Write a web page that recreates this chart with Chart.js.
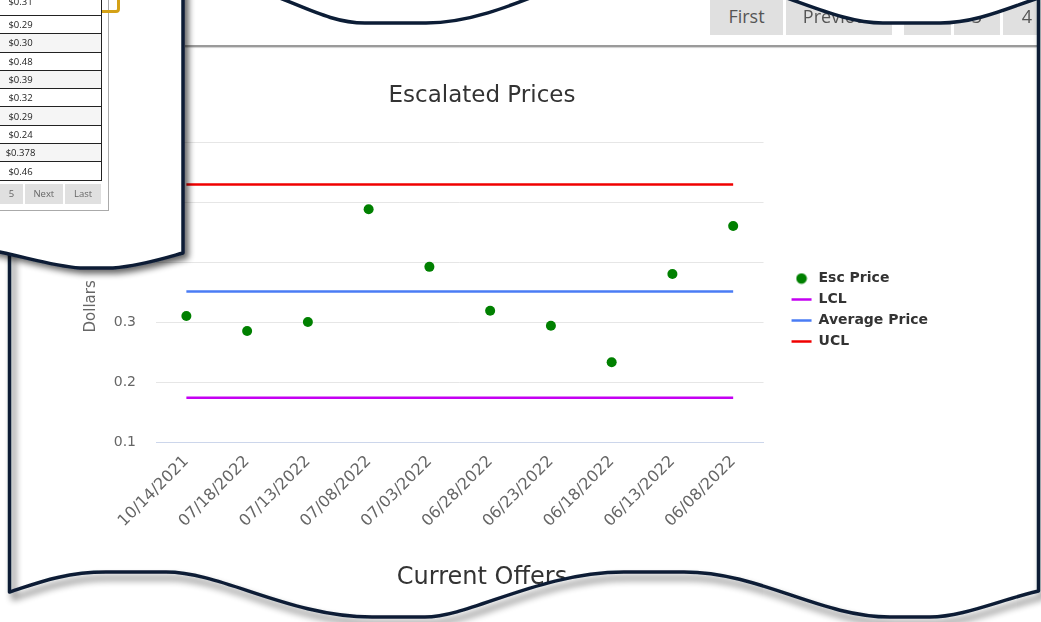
<!DOCTYPE html>
<html>
<head>
<meta charset="utf-8">
<script src="https://cdn.jsdelivr.net/npm/chart.js@4/dist/chart.umd.min.js"></script>
<style>
  html, body { margin: 0; padding: 0; background: #fff; width: 1041px; height: 622px; overflow: hidden; }
  #page { position: relative; width: 1041px; height: 622px; overflow: hidden; }
  #chartBox { position: absolute; left: 0; top: 0; width: 964px; height: 622px; z-index: 1; }
  .pbtn { position: absolute; top: -12px; height: 47px; background: #e0e0e0; color: #555;
          font: 18px "Open Sans", sans-serif; line-height: 56px; text-align: center; z-index: 1; }
  #rule { position: absolute; left: 185px; top: 45px; width: 852px; height: 2px; background: #9a9a9a;
          box-shadow: 0 1px 1px #d0d0d0; z-index: 1; }
  svg.layer { position: absolute; left: 0; top: 0; overflow: visible; }
  #frame { z-index: 2; }
  #insetShape { z-index: 3; }
  #inset { position: absolute; left: 0; top: 0; width: 183px; height: 250px; z-index: 4; overflow: hidden;
           font-family: "Open Sans", sans-serif; }
  #inset .outer { position: absolute; left: -20px; top: -20px; width: 127px; height: 229px; border: 1px solid #aaa; }
  #inset .gold { position: absolute; left: -20px; top: -20px; width: 134px; height: 27px;
                 border: 3.5px solid #d4a116; border-radius: 4px; }
  #inset table { position: absolute; left: -60px; top: -2.3px; border-collapse: collapse; width: 162px; }
  #inset td { height: 17.3px; padding: 0; border-bottom: 1px solid #222; border-right: 1px solid #222;
              font-size: 9.5px; color: #222; text-align: center; line-height: 17px; background: #fff; }
  #inset tr.alt td { background: #f5f5f5; }
  #inset tr.first td span { position: relative; top: -5px; }
  #inset .ib { position: absolute; top: 183.5px; height: 20.5px; background: #e0e0e0; color: #666;
               font-size: 9.5px; line-height: 20.5px; text-align: center; }
</style>
</head>
<body>
<div id="page">
  <div id="chartBox"><canvas id="chart"></canvas></div>

  <div id="pager"></div>
  <div id="rule"></div>

  <svg id="frame" class="layer" width="1041" height="622">
    <defs>
      <filter id="edgeShadow" filterUnits="userSpaceOnUse" x="-50" y="-50" width="1150" height="720">
        <feGaussianBlur in="SourceAlpha" stdDeviation="3.5"/>
        <feOffset dx="4" dy="6" result="off"/>
        <feComponentTransfer><feFuncA type="linear" slope="0.6"/></feComponentTransfer>
        <feMerge><feMergeNode/><feMergeNode in="SourceGraphic"/></feMerge>
      </filter>
    </defs>
    <!-- white surround outside the torn sheet -->
    <path fill="#fff" fill-rule="evenodd" d="
      M-20,-20 H1070 V650 H-20 Z
      M9.5,-20 L225,-20 C290,-4 322,23 365,23 L426,23 C472,23 515,4 560,-14 L750,-14 C800,0 842,23 883,23 L940,23 C976,23 1008,8 1038.5,-2
      L1038.5,591 C1000,600 962,617 930,617 L890,617 C820,617 760,572 684,572 L624,572 C540,572 470,617 425,617 L372,617
      C290,617 222,572 166,572 L106,572 C62,572 32,585 9.5,592 Z"/>
    <!-- bottom and right edges, with shadow -->
    <path fill="none" stroke="#0c1d36" stroke-width="3.5" stroke-linejoin="round" filter="url(#edgeShadow)" d="
      M1038.5,-10 L1038.5,591 C1000,600 962,617 930,617 L890,617 C820,617 760,572 684,572 L624,572 C540,572 470,617 425,617 L372,617
      C290,617 222,572 166,572 L106,572 C62,572 32,585 9.5,592 L9.5,200"/>
    <!-- top torn edge -->
    <path fill="none" stroke="#0c1d36" stroke-width="3.5" stroke-linejoin="round" d="
      M225,-20 C290,-4 322,23 365,23 L426,23 C472,23 515,4 560,-14
      M750,-14 C800,0 842,23 883,23 L940,23 C976,23 1008,8 1038.5,-2"/>
  </svg>

  <svg id="insetShape" class="layer" width="1041" height="622">
    <defs>
      <filter id="insetShadow" filterUnits="userSpaceOnUse" x="-50" y="-50" width="400" height="400">
        <feGaussianBlur in="SourceAlpha" stdDeviation="3"/>
        <feOffset dx="4" dy="4" result="off"/>
        <feComponentTransfer><feFuncA type="linear" slope="0.6"/></feComponentTransfer>
        <feMerge><feMergeNode/><feMergeNode in="SourceGraphic"/></feMerge>
      </filter>
    </defs>
    <path fill="#fff" stroke="#0c1d36" stroke-width="3.5" stroke-linejoin="round" filter="url(#insetShadow)"
      d="M-10,-10 L183,-10 L183,253 C165,258 140,266 113,268 L80,268 C52,266 26,257 -10,250 Z"/>
  </svg>

  <div id="inset">
    <div class="outer"></div>
    <div class="gold"></div>
    <table id="priceTable"></table>
    <div id="insetPager"></div>
  </div>
</div>

<script>
// Offer dates along the x axis and the escalated price for each offer
const offerDates = ['10/14/2021', '07/18/2022', '07/13/2022', '07/08/2022', '07/03/2022',
                    '06/28/2022', '06/23/2022', '06/18/2022', '06/13/2022', '06/08/2022'];
const escPrice   = [0.31, 0.285, 0.30, 0.488, 0.392, 0.319, 0.294, 0.233, 0.38, 0.46];

// Control limits and the average, one value per offer
const lclLine     = [0.174, 0.174, 0.174, 0.174, 0.174, 0.174, 0.174, 0.174, 0.174, 0.174];
const averageLine = [0.351, 0.351, 0.351, 0.351, 0.351, 0.351, 0.351, 0.351, 0.351, 0.351];
const uclLine     = [0.529, 0.529, 0.529, 0.529, 0.529, 0.529, 0.529, 0.529, 0.529, 0.529];

// Y axis tick values (dollars)
const yTicks = [0.1, 0.2, 0.3, 0.4, 0.5, 0.6];

// Price list shown in the side panel, and the pager captions
const tablePrices  = ['$0.31', '$0.29', '$0.30', '$0.48', '$0.39', '$0.32', '$0.29', '$0.24', '$0.378', '$0.46'];
const panelPager   = ['5', 'Next', 'Last'];
const headerPager  = ['First', 'Previous', '2', '3', '4'];

// ---- page header pager ----
const headerSlots = [[710, 73], [786, 106], [904, 47], [954, 46], [1003, 48]];
const pagerEl = document.getElementById('pager');
headerPager.forEach((t, i) => {
  const b = document.createElement('div');
  b.className = 'pbtn';
  b.style.left = headerSlots[i][0] + 'px';
  b.style.width = headerSlots[i][1] + 'px';
  b.textContent = t;
  pagerEl.appendChild(b);
});

// ---- side panel table ----
const tbl = document.getElementById('priceTable');
tablePrices.forEach((p, i) => {
  const tr = document.createElement('tr');
  if (i === 0) tr.className = 'first';
  else if (i % 2 === 0) tr.className = 'alt';
  const td = document.createElement('td');
  const sp = document.createElement('span');
  sp.textContent = p;
  td.appendChild(sp);
  tr.appendChild(td);
  tbl.appendChild(tr);
});
const ipSlots = [[0, 22.7], [25, 37.7], [65, 36]];
const ip = document.getElementById('insetPager');
panelPager.forEach((t, i) => {
  const b = document.createElement('div');
  b.className = 'ib';
  b.style.left = ipSlots[i][0] + 'px';
  b.style.width = ipSlots[i][1] + 'px';
  b.textContent = t;
  ip.appendChild(b);
});

// ---- chart ----
const FONT = 'DejaVu Sans';
const PRICE_GREEN = '#008000';

// round legend marker for the price series (the line series use the 'line' style)
const dotMarker = document.createElement('canvas');
dotMarker.width = 12; dotMarker.height = 12;
(() => {
  const c = dotMarker.getContext('2d');
  c.fillStyle = PRICE_GREEN;
  c.beginPath(); c.arc(6, 6, 5.3, 0, Math.PI * 2); c.fill();
})();

// moves the legend column a little further from the plot area
const legendGap = {
  id: 'legendGap',
  afterLayout(chart) {
    const lg = chart.legend;
    if (lg) { lg.left += 21; lg.right += 21; lg.top -= 1; lg.bottom -= 1; }
  }
};

const chart = new Chart(document.getElementById('chart'), {
  type: 'line',
  data: {
    labels: offerDates,
    datasets: [
      {
        label: 'Esc Price', data: escPrice, showLine: false,
        pointStyle: 'circle', pointRadius: 5, pointHoverRadius: 5,
        pointBackgroundColor: PRICE_GREEN, pointBorderColor: PRICE_GREEN, pointBorderWidth: 0,
        borderColor: PRICE_GREEN, backgroundColor: PRICE_GREEN
      },
      {
        label: 'LCL', data: lclLine, borderColor: '#c400f2', borderWidth: 2.5,
        pointRadius: 0, pointHoverRadius: 0, pointStyle: 'line',
        pointBorderColor: '#c400f2', pointBorderWidth: 2.5, fill: false
      },
      {
        label: 'Average Price', data: averageLine, borderColor: '#4a7cf5', borderWidth: 2.5,
        pointRadius: 0, pointHoverRadius: 0, pointStyle: 'line',
        pointBorderColor: '#4a7cf5', pointBorderWidth: 2.5, fill: false
      },
      {
        label: 'UCL', data: uclLine, borderColor: '#f00000', borderWidth: 2.5,
        pointRadius: 0, pointHoverRadius: 0, pointStyle: 'line',
        pointBorderColor: '#f00000', pointBorderWidth: 2.5, fill: false
      }
    ]
  },
  options: {
    responsive: true,
    maintainAspectRatio: false,
    animation: false,
    layout: { autoPadding: false, padding: { left: 47, right: 47, top: 0, bottom: 0 } },
    plugins: {
      title: {
        display: true, text: 'Escalated Prices', color: '#333',
        font: { family: FONT, size: 23, weight: 'normal' },
        padding: { top: 82.2, bottom: 32.2 }
      },
      subtitle: {
        display: true, position: 'bottom', text: 'Current Offers', color: '#333',
        font: { family: FONT, size: 24, weight: 'normal' },
        padding: { top: 22.3, bottom: 30 }
      },
      legend: {
        position: 'right',
        labels: {
          usePointStyle: true, pointStyleWidth: 20, boxHeight: 7.5, padding: 7,
          color: '#333', font: { family: FONT, size: 14, weight: 'bold' },
          generateLabels(chart) {
            const items = Chart.defaults.plugins.legend.labels.generateLabels(chart);
            items[0].pointStyle = dotMarker;
            return items;
          }
        }
      },
      tooltip: { enabled: false }
    },
    scales: {
      x: {
        offset: true,
        grid: { display: false, drawTicks: false },
        border: { display: true, color: '#ccd6eb', width: 1 },
        ticks: {
          autoSkip: false, minRotation: 45, maxRotation: 45, padding: 10,
          color: '#666', font: { family: FONT, size: 16 }
        }
      },
      y: {
        min: yTicks[0], max: yTicks[yTicks.length - 1],
        afterBuildTicks: (scale) => { scale.ticks = yTicks.map(v => ({ value: v })); },
        afterFit: (scale) => { scale.width = 109; },
        grid: {
          drawTicks: false,
          color: (c) => (c.tick && c.tick.value <= yTicks[0] + 1e-9) ? '#ccd6eb' : '#e6e6e6'
        },
        border: { display: false },
        ticks: { padding: 20, color: '#666', font: { family: FONT, size: 14 } },
        title: {
          display: true, text: 'Dollars\u00a0\u00a0\u00a0\u00a0\u00a0\u00a0', color: '#666',
          font: { family: FONT, size: 15 }, padding: { top: 35, bottom: 0 }
        }
      }
    }
  },
  plugins: [legendGap]
});
</script>
</body>
</html>
